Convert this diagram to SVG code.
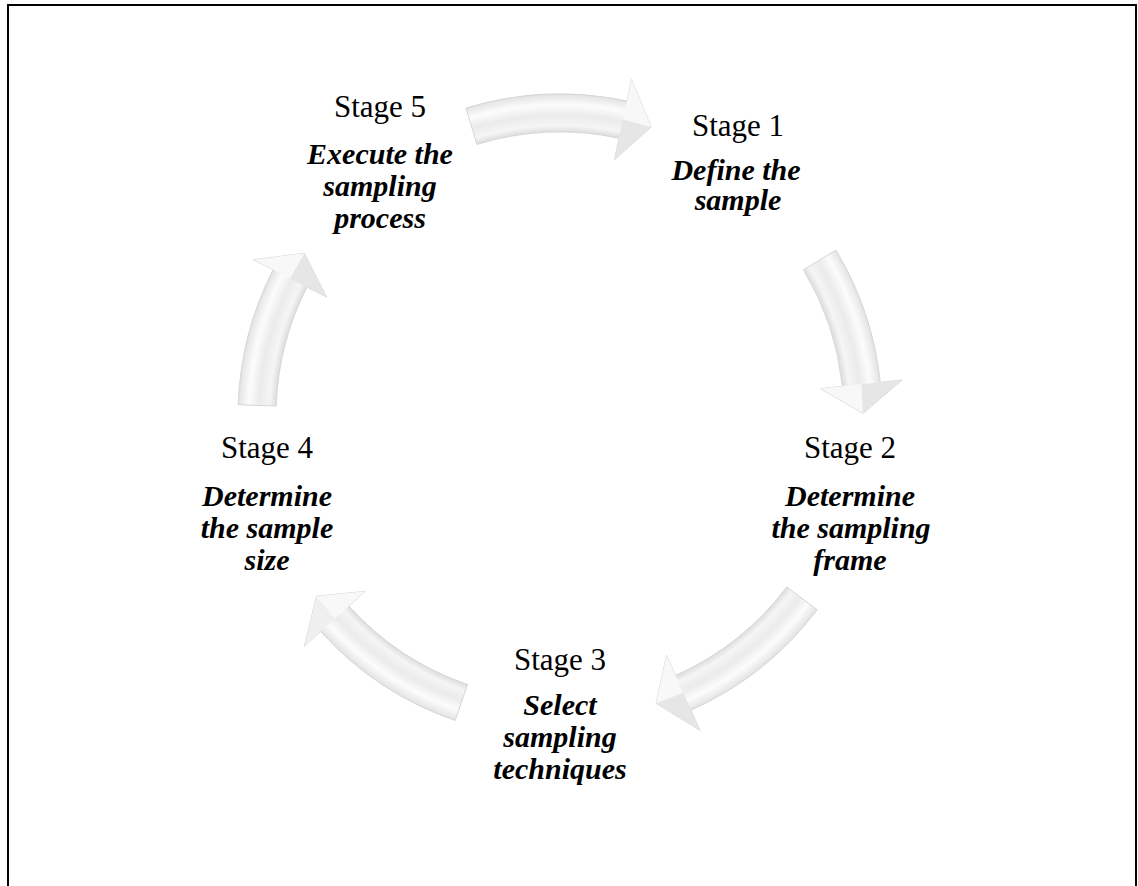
<svg xmlns="http://www.w3.org/2000/svg" width="1138" height="886" viewBox="0 0 1138 886">
  <style>
    .frame { fill: none; stroke: #000; stroke-width: 2; }
    .arrow { fill: url(#band); stroke: #d6d6d6; stroke-width: 1; }
    .head { fill: #f8f8f8; stroke: none; }
    .facet { fill: #000; fill-opacity: 0.07; stroke: none; }
    .facet-soft { fill: #000; fill-opacity: 0.035; stroke: none; }
    .stage { font-family: "Liberation Serif", "Times New Roman", serif; font-size: 31px; text-anchor: middle; fill: #000; }
    .desc { font-family: "Liberation Serif", "Times New Roman", serif; font-size: 30px; font-style: italic; font-weight: bold; text-anchor: middle; fill: #000; }
  </style>
  <defs>
    <!-- shading across the width of each curved arrow, centred on the cycle centre -->
    <radialGradient id="band" gradientUnits="userSpaceOnUse" cx="560" cy="416" r="344">
      <stop offset="0.76" stop-color="#f3f3f3"/>
      <stop offset="0.826" stop-color="#dedede"/>
      <stop offset="0.845" stop-color="#f5f5f5"/>
      <stop offset="0.875" stop-color="#ebebeb"/>
      <stop offset="0.905" stop-color="#fcfcfc"/>
      <stop offset="0.93" stop-color="#e8e8e8"/>
      <stop offset="0.936" stop-color="#e0e0e0"/>
      <stop offset="1" stop-color="#f3f3f3"/>
    </radialGradient>
  </defs>

  <rect x="0" y="0" width="1138" height="886" fill="#fff"/>
  <path class="frame" d="M8,886 V5 H1136 V886"/>

  <g id="connectors">
    <!-- Stage 5 to Stage 1 -->
    <g id="arrow-5-1">
      <path class="arrow" d="M465.86,108.07 A322,322 0 0 1 626.95,101.04 L631.52,79.52 L651.12,127.02 L614.47,159.72 L619.05,138.21 A284,284 0 0 0 476.97,144.41 Z"/>
      <path class="head" d="M631.52,79.52 L651.12,127.02 L614.47,159.72 Z"/>
      <path class="facet" d="M651.12,127.02 L614.47,159.72 L623.0,119.62 Z"/>
    </g>
    <!-- Stage 1 to Stage 2 -->
    <g id="arrow-1-2">
      <path class="arrow" d="M836.01,250.16 A322,322 0 0 1 880.24,382.34 L902.11,380.04 L862.99,413.36 L820.56,388.61 L842.44,386.31 A284,284 0 0 0 803.44,269.73 Z"/>
      <path class="head" d="M902.11,380.04 L862.99,413.36 L820.56,388.61 Z"/>
      <path class="facet" d="M862.99,413.36 L902.11,380.04 L861.34,384.33 Z"/>
    </g>
    <!-- Stage 2 to Stage 3 -->
    <g id="arrow-2-3">
      <path class="arrow" d="M817.16,609.79 A322,322 0 0 1 690.97,710.16 L699.92,730.26 L656.14,703.34 L666.57,655.35 L675.51,675.45 A284,284 0 0 0 786.81,586.92 Z"/>
      <path class="head" d="M699.92,730.26 L656.14,703.34 L666.57,655.35 Z"/>
      <path class="facet" d="M656.14,703.34 L699.92,730.26 L683.24,692.81 Z"/>
    </g>
    <!-- Stage 3 to Stage 4 -->
    <g id="arrow-3-4">
      <path class="arrow" d="M455.17,720.46 A322,322 0 0 1 320.71,631.46 L304.36,646.18 L316.43,596.23 L365.30,591.31 L348.95,606.03 A284,284 0 0 0 467.54,684.53 Z"/>
      <path class="head" d="M304.36,646.18 L316.43,596.23 L365.30,591.31 Z"/>
      <path class="facet-soft" d="M316.43,596.23 L304.36,646.18 L334.83,618.75 Z"/>
    </g>
    <!-- Stage 4 to Stage 5 -->
    <g id="arrow-4-5">
      <path class="arrow" d="M238.20,404.76 A322,322 0 0 1 273.09,269.82 L253.49,259.83 L304.45,253.20 L326.56,297.05 L306.95,287.07 A284,284 0 0 0 276.17,406.09 Z"/>
      <path class="head" d="M253.49,259.83 L304.45,253.20 L326.56,297.05 Z"/>
      <path class="facet" d="M304.45,253.20 L326.56,297.05 L290.02,278.44 Z"/>
    </g>
  </g>

  <g id="stage-1">
    <text class="stage" x="738" y="136">Stage 1</text>
    <text class="desc" x="736" y="180">Define the</text>
    <text class="desc" x="738" y="210">sample</text>
  </g>
  <g id="stage-2">
    <text class="stage" x="850" y="458">Stage 2</text>
    <text class="desc" x="850" y="506">Determine</text>
    <text class="desc" x="851" y="538">the sampling</text>
    <text class="desc" x="850" y="570">frame</text>
  </g>
  <g id="stage-3">
    <text class="stage" x="560" y="670">Stage 3</text>
    <text class="desc" x="560" y="715">Select</text>
    <text class="desc" x="560" y="747">sampling</text>
    <text class="desc" x="560" y="779">techniques</text>
  </g>
  <g id="stage-4">
    <text class="stage" x="267" y="458">Stage 4</text>
    <text class="desc" x="267" y="506">Determine</text>
    <text class="desc" x="267" y="538">the sample</text>
    <text class="desc" x="267" y="570">size</text>
  </g>
  <g id="stage-5">
    <text class="stage" x="380" y="117">Stage 5</text>
    <text class="desc" x="380" y="164">Execute the</text>
    <text class="desc" x="380" y="196">sampling</text>
    <text class="desc" x="380" y="228">process</text>
  </g>
</svg>
